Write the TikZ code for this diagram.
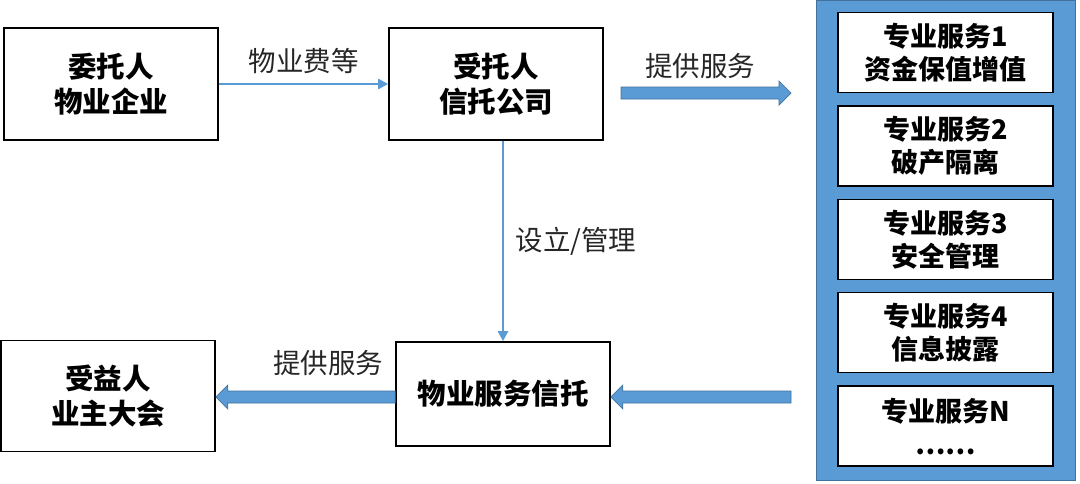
\documentclass[tikz,border=0pt]{standalone}
\usepackage{fontspec}
\setmainfont{Noto Sans CJK SC}
\usetikzlibrary{positioning}
\usetikzlibrary{calc}
\usetikzlibrary{arrows.meta}
\definecolor{arrowblue}{HTML}{5B9BD5}
\definecolor{arrowedge}{HTML}{41719C}

\tikzset{
  box/.style={draw=black, line width=1.6pt, fill=white, minimum width=214pt,
    align=center, font=\fontsize{28.5}{35}\selectfont\bfseries},
  svc/.style={box, line width=1.3pt, minimum width=215pt, minimum height=80pt,
    font=\fontsize{27}{33}\selectfont\bfseries},
  lbl/.style={font=\fontsize{27.5}{30}\selectfont, text=black!85},
  thin/.style={draw=arrowblue, line width=2.6pt, -{Triangle[length=10pt,width=10pt]}},
  fat/.style={draw=arrowedge, fill=arrowblue, line width=0.7pt,
    to path={let \p1=(\tikztostart), \p2=(\tikztotarget), \n1={(\x2>\x1)*2-1} in
      (\x1,\y1+6pt) -- (\x2-\n1*12pt,\y1+6pt) -- (\x2-\n1*12pt,\y1+12pt)
      -- (\x2,\y1) -- (\x2-\n1*12pt,\y1-12pt) -- (\x2-\n1*12pt,\y1-6pt)
      -- (\x1,\y1-6pt) -- cycle}},
}

\begin{document}
\begin{tikzpicture}[x=1pt, y=-1pt]
    \useasboundingbox (0,0) rectangle (1080,483);

    % left side
    \node[box, minimum height=112pt] (principal) at (111,84) {委托人\\物业企业};
    \node[box, minimum height=112pt] (trustee) at (496,84) {受托人\\信托公司};
    \node[box, minimum height=111pt] (benef) at (108,396) {受益人\\业主大会};
    \node[box, minimum height=104pt] (trust) at (503,394) {物业服务信托};

    % service panel
    \node[draw=arrowedge, fill=arrowblue, line width=0.8pt, minimum width=259pt,
      minimum height=480pt, inner sep=0pt] (panel) at (946,240.5) {};
    \foreach \i/\txt in {1/{专业服务1\\资金保值增值}, 2/{专业服务2\\破产隔离},
        3/{专业服务3\\安全管理}, 4/{专业服务4\\信息披露}, 5/{专业服务N\\……}}
      \node[svc] (s\i) at (945.5,{52.5+93.4*(\i-1)}) {\txt};

    % connectors
    \draw[thin] (principal) -- node[lbl, above=6pt] {物业费等} (trustee);
    \draw[thin] (trust.north |- trustee.south) -- node[lbl, right=8pt] {设立/管理} (trust.north);

    \coordinate (top1) at (621,93);
    \coordinate (top2) at (791,93);
    \path[fat] (top1) to (top2);
    \node[lbl] (tlabel) at (700,66) {提供服务};

    \coordinate (bot1) at (791,397);
    \path[fat] (bot1) to (trust.east |- bot1);
    \path[fat] (trust.west |- bot1) to (benef.east |- bot1);
    \node[lbl] (blabel) at (328,363) {提供服务};
\end{tikzpicture}
\end{document}
